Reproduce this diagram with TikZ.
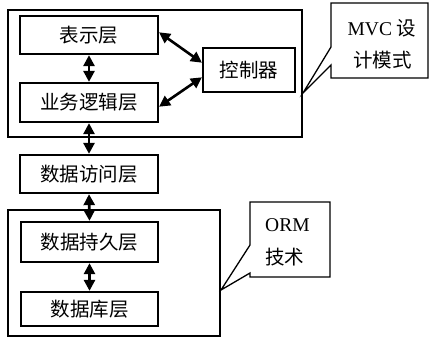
\documentclass[tikz,border=0pt]{standalone}
\usepackage{fontspec}
\setmainfont{Liberation Serif}
\newfontfamily\cjk{Noto Sans CJK SC}
\usetikzlibrary{arrows.meta}
\begin{document}
\begin{tikzpicture}[x=1pt,y=-1pt,
  layer/.style={draw,line width=1.3pt,minimum width=138pt,inner sep=0pt,font=\cjk\fontsize{19.5}{21}\selectfont},
  frame/.style={draw,line width=1.3pt},
  biarrow/.style={{Triangle[length=11pt,width=11pt]}-{Triangle[length=11pt,width=11pt]},line width=2.6pt,shorten <=0.5pt,shorten >=0.5pt},
  calltext/.style={inner sep=0pt,font=\fontsize{19.5}{21}\selectfont}]
\useasboundingbox (0,0) rectangle (430,338);
% outer frames
\draw[frame] (8,10) rectangle (302,137);
\draw[frame] (8,210) rectangle (220,336);
% layers
\node[layer,minimum height=38pt] (pres) at (89,35) {表示层};
\node[layer,minimum height=39pt] (biz) at (89,102.5) {业务逻辑层};
\node[layer,minimum width=92pt,minimum height=44pt] (ctrl) at (249,70) {控制器};
\node[layer,minimum height=38pt] (dal) at (89,174) {数据访问层};
\node[layer,minimum width=137pt,minimum height=40pt] (pers) at (89.5,242) {数据持久层};
\node[layer,minimum width=137pt,minimum height=34pt] (db) at (89.5,309) {数据库层};
% arrows
\draw[biarrow] (pres.south) -- (biz.north);
\draw[biarrow] (biz.south) -- (dal.north);
\draw[biarrow] (dal.south) -- (pers.north);
\draw[biarrow] (pers.south) -- (db.north);
\draw[biarrow] ([yshift=3pt]pres.east) -- ([yshift=7pt]ctrl.west);
\draw[biarrow] ([yshift=-4.5pt]biz.east) -- ([yshift=-7pt]ctrl.west);
% callouts
\draw[frame] (331,3) -- (428,3) -- (428,78) -- (331,78) -- (331,65) -- (303,93) -- (331,47) -- cycle;
\node[calltext,anchor=base] (mvc1) at (382,35.5) {MVC {\cjk 设}};
\node[calltext,anchor=base] (mvc2) at (382.5,67.5) {\cjk 计模式};
\draw[frame] (250,202) -- (330,202) -- (330,277) -- (250,277) -- (250,273) -- (221,290) -- (250,245) -- cycle;
\node[calltext,anchor=base west] (orm1) at (265,231.5) {ORM};
\node[calltext,anchor=base west] (orm2) at (265,264.5) {\cjk 技术};
\end{tikzpicture}
\end{document}
